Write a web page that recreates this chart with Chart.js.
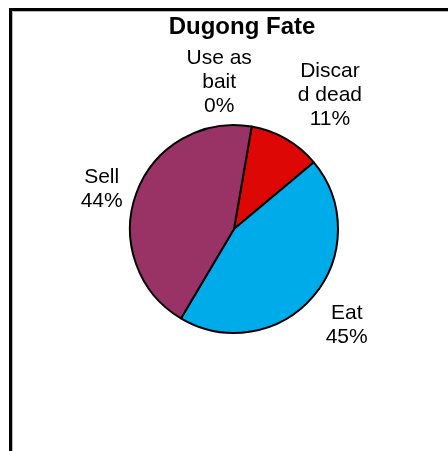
<!DOCTYPE html>
<html>
<head>
<meta charset="utf-8">
<script src="https://cdn.jsdelivr.net/npm/chart.js@4.4.1/dist/chart.umd.min.js"></script>
<style>
  html, body { margin: 0; padding: 0; background: #fff; }
  #wrap { position: relative; width: 448px; height: 451px; overflow: hidden; }
  #frame {
    position: absolute; left: 9px; top: 8px; width: 600px; height: 600px;
    border-left: 3px solid #000; border-top: 3px solid #000;
    box-shadow: 1px 1px 0 #bbb inset;
  }
  canvas { position: absolute; left: 0; top: 0; }
</style>
</head>
<body>
<div id="wrap">
  <div id="frame"></div>
  <canvas id="myChart" width="448" height="451"></canvas>
</div>
<script>
// data
const categories = ['Discard dead', 'Eat', 'Sell', 'Use as bait'];
const labelLines = [['Discar', 'd dead'], ['Eat'], ['Sell'], ['Use as', 'bait']];
const percents = [11.2, 44.6, 44.2, 0];
const colors = ['#DD0806', '#00ABE9', '#993366', '#FFCC00'];
const chartTitle = 'Dugong Fate';

// label placement: distance from pie centre (px) and small nudges
const labelDist = [160, 148, 140, 148];
const labelNudge = [[16, 5], [0, 0], [-1, 9], [-40, -1]];

const labelsPlugin = {
    id: 'pieLabels',
    afterDraw(chart) {
        const ctx = chart.ctx;
        const arcs = chart.getDatasetMeta(0).data;
        ctx.save();
        ctx.fillStyle = '#000';
        ctx.textAlign = 'center';
        ctx.textBaseline = 'middle';

        // title
        const c0 = arcs[0];
        ctx.font = 'bold 24px "Liberation Sans", Arial, sans-serif';
        ctx.fillText(chartTitle, c0.x + 8, 27);

        ctx.font = '21px "Liberation Sans", Arial, sans-serif';
        const total = percents.reduce((a, b) => a + b, 0);
        arcs.forEach((arc, i) => {
            const mid = (arc.startAngle + arc.endAngle) / 2;
            const cx = arc.x + Math.cos(mid) * labelDist[i] + labelNudge[i][0];
            const cy = arc.y + Math.sin(mid) * labelDist[i] + labelNudge[i][1];
            const lines = labelLines[i].concat([Math.round(percents[i] / total * 100) + '%']);
            const lh = 24;
            const top = cy - (lines.length - 1) * lh / 2;
            lines.forEach((t, k) => ctx.fillText(t, cx, top + k * lh));
        });
        ctx.restore();
    }
};

const ctx = document.getElementById('myChart').getContext('2d');
const myChart = new Chart(ctx, {
    type: 'pie',
    data: {
        labels: categories,
        datasets: [{
            data: percents,
            backgroundColor: colors,
            borderColor: '#000',
            borderWidth: 2
        }]
    },
    options: {
        responsive: false,
        animation: false,
        rotation: 9.8,
        layout: {
            padding: { left: 129, right: 109, top: 124, bottom: 117 }
        },
        plugins: {
            legend: { display: false },
            tooltip: { enabled: false },
            title: { display: false }
        }
    },
    plugins: [labelsPlugin]
});
</script>
</body>
</html>
